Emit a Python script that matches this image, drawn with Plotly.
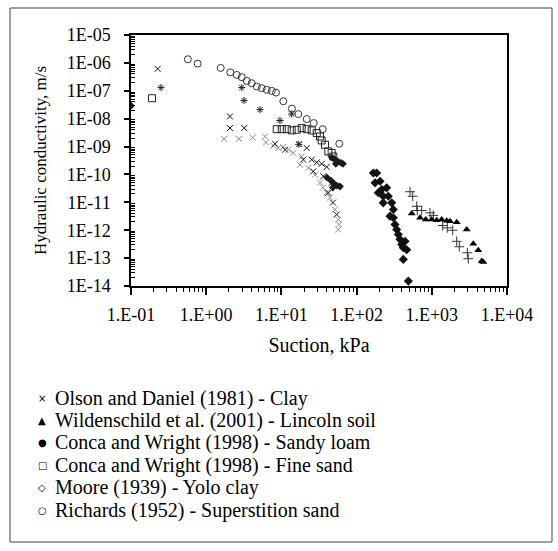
import plotly.graph_objects as go

# ---------------- data (suction kPa, hydraulic conductivity m/s) ----------------
olson_x = [0.226, 2.07, 2.07, 3.21, 8.22, 11.2, 17.3, 21.7, 19.5, 25.3, 29.5, 34.3, 40.0, 26.5, 36.1, 46.6, 42.1, 48.5, 54.3]
olson_y = [6.1e-7, 1.2e-8, 4.6e-9, 4.6e-9, 1.26e-9, 7.7e-10, 1.23e-9, 8.9e-10, 3.4e-10, 3.4e-10, 2.7e-10, 2.4e-10, 1.85e-10,
           1.29e-10, 8.6e-11, 5.0e-11, 2.2e-11, 9.8e-12, 3.65e-12]

olson2_x = [1.73, 2.73, 4.15, 6.05, 6.24, 7.80, 9.1, 10.6, 12.4, 14.4, 18.6, 17.7, 22.8, 28.0, 32.6, 35.7, 40.0, 44.3, 51.6,
            57.1, 58.4, 57.1]
olson2_y = [1.9e-9, 1.9e-9, 2.1e-9, 2.3e-9, 1.4e-9, 1.07e-9, 8.9e-10, 9.6e-10, 7.7e-10, 5.9e-10, 4.4e-10, 2.2e-10, 1.7e-10,
            9.8e-11, 5.1e-11, 3.4e-11, 2.2e-11, 1.48e-11, 5.5e-12, 2.4e-12, 1.6e-12, 1.06e-12]

olson3_x = [0.25, 2.97, 3.18, 5.19, 9.57, 13.7, 17.0]
olson3_y = [1.3e-7, 1.3e-7, 4.5e-8, 2.1e-8, 8.6e-9, 1.46e-8, 1.2e-9]

wild_x = [541, 697, 830, 997, 1162, 1352, 1578, 1746, 2144, 2911, 3565, 4150, 4610, 4840]
wild_y = [4.0e-12, 2.8e-12, 2.4e-12, 2.4e-12, 2.3e-12, 2.4e-12, 2.2e-12, 2.1e-12, 1.94e-12, 1.06e-12, 3.3e-13, 1.9e-13,
          7.8e-14, 7.2e-14]

wild2_x = [513, 557, 630, 641, 734, 946, 1047, 1396, 1607, 1896, 2144, 2322, 2967, 3056]
wild2_y = [2.4e-11, 1.65e-11, 7.2e-12, 5.1e-12, 5.1e-12, 4.2e-12, 3.4e-12, 1.48e-12, 1.22e-12, 1.0e-12, 4.0e-13, 2.55e-13,
           1.56e-13, 9.5e-14]

loam_x = [167, 185, 176, 205, 194, 216, 251, 226, 264, 226, 293, 308, 278, 308, 324, 341, 359, 377, 398, 418, 464, 441,
          418, 488]
loam_y = [1.13e-10, 1.13e-10, 5.0e-11, 5.7e-11, 2.2e-11, 2.9e-11, 3.3e-11, 1.65e-11, 1.65e-11, 9.6e-12, 9.6e-12, 5.5e-12,
          3.2e-12, 2.8e-12, 1.6e-12, 1.06e-12, 7.0e-13, 4.7e-13, 3.1e-13, 2.35e-13, 2.0e-13, 4.0e-13, 9.0e-14, 1.5e-14]

sand_x = [0.19, 8.67, 10.1, 11.8, 13.7, 16.0, 18.6, 21.7, 25.3, 29.5, 32.6, 34.3, 38.0, 42.1, 46.6, 49.0]
sand_y = [5.4e-8, 4.2e-9, 4.2e-9, 4.2e-9, 3.8e-9, 4.0e-9, 4.6e-9, 4.2e-9, 3.8e-9, 3.05e-9, 2.3e-9, 1.66e-9, 1.16e-9,
          6.7e-10, 5.9e-10, 4.4e-10]

moore_x = [0.1, 47.1, 51.6, 56.6, 62.1, 66.0, 53.0, 40.4, 45.7, 50.0, 54.8, 60.1, 48.3]
moore_y = [2.9e-8, 4.0e-10, 3.4e-10, 2.9e-10, 2.6e-10, 2.4e-10, 2.4e-10, 7.7e-11, 6.0e-11, 4.7e-11, 4.0e-11, 3.7e-11, 3.4e-11]

richards_x = [0.57, 0.77, 1.56, 2.09, 2.55, 2.97, 3.46, 4.03, 4.70, 5.47, 6.38, 7.43, 8.48, 10.6, 13.8, 16.8, 21.7, 26.9,
              35.4, 58.9]
richards_y = [1.35e-6, 9.4e-7, 6.6e-7, 4.6e-7, 3.7e-7, 3.07e-7, 2.26e-7, 1.87e-7, 1.42e-7, 1.24e-7, 1.08e-7, 9.9e-8,
              8.6e-8, 4.2e-8, 2.3e-8, 1.46e-8, 9.7e-9, 6.95e-9, 4.2e-9, 1.26e-9]

x_tickvals = [0.1, 1, 10, 100, 1000, 10000]
x_ticktext = ["1.E-01", "1.E+00", "1.E+01", "1.E+02", "1.E+03", "1.E+04"]
y_tickvals = [1e-14, 1e-13, 1e-12, 1e-11, 1e-10, 1e-9, 1e-8, 1e-7, 1e-6, 1e-5]
y_ticktext = ["1E-14", "1E-13", "1E-12", "1E-11", "1E-10", "1E-09", "1E-08", "1E-07", "1E-06", "1E-05"]

legend_glyphs = ["×", "▲", "●", "□", "◇", "○"]
legend_labels = ["Olson and Daniel (1981) - Clay",
                 "Wildenschild et al. (2001) - Lincoln soil",
                 "Conca and Wright (1998) - Sandy loam",
                 "Conca and Wright (1998) - Fine sand",
                 "Moore (1939) - Yolo clay",
                 "Richards (1952) - Superstition sand"]

# ---------------- layout geometry (pixels) ----------------
W, H = 558, 551
L, R, T, B = 131, 507, 35, 286
FONT = "Liberation Serif"


def px(xp):
    return (xp - L) / (R - L)


def py(yp):
    return (B - yp) / (B - T)


fig = go.Figure()


def add(x, y, name, symbol, size, color, lw=1.0):
    fig.add_trace(go.Scatter(
        x=x, y=y, mode="markers", name=name, showlegend=False,
        marker=dict(symbol=symbol, size=size, color=color,
                    line=dict(width=lw, color=color))))


add(olson2_x, olson2_y, "Olson and Daniel (1981) - Clay", "x-thin-open", 6, "#8a8a8a")
add(olson_x, olson_y, "Olson and Daniel (1981) - Clay", "x-thin-open", 6, "#111111")
add(olson3_x, olson3_y, "Olson and Daniel (1981) - Clay", "asterisk-open", 6, "#222222")
add(wild2_x, wild2_y, "Wildenschild et al. (2001) - Lincoln soil", "cross-thin-open", 7, "#333333")
add(wild_x, wild_y, "Wildenschild et al. (2001) - Lincoln soil", "triangle-up", 7, "#000000", 0)
add(loam_x, loam_y, "Conca and Wright (1998) - Sandy loam", "diamond", 7, "#111111", 0)
add(sand_x, sand_y, "Conca and Wright (1998) - Fine sand", "square-open", 7, "#222222")
add(moore_x, moore_y, "Moore (1939) - Yolo clay", "diamond", 6, "#1a1a1a", 0)
add(richards_x, richards_y, "Richards (1952) - Superstition sand", "circle-open", 7, "#333333")

x_minor = [m * 10.0 ** e for e in range(-1, 4) for m in range(2, 10)]
y_minor = [m * 10.0 ** e for e in range(-14, -5) for m in range(2, 10)]

fig.update_xaxes(
    type="log", range=[-1, 4], showgrid=False, zeroline=False,
    showline=True, linecolor="black", linewidth=1.5, mirror=True,
    tickmode="array", tickvals=x_tickvals, ticktext=x_ticktext,
    ticks="outside", ticklen=7, tickwidth=1.5, tickcolor="black",
    ticklabelstandoff=5,
    minor=dict(tickmode="array", tickvals=x_minor, ticks="outside", ticklen=4,
               tickwidth=1, tickcolor="black", showgrid=False),
    tickfont=dict(family=FONT, size=18, color="black"),
    title=dict(text="Suction, kPa", font=dict(family=FONT, size=20, color="black"), standoff=14),
    automargin=False,
)
fig.update_yaxes(
    type="log", range=[-14, -5], showgrid=False, zeroline=False,
    showline=True, linecolor="black", linewidth=1.5, mirror=True,
    tickmode="array", tickvals=y_tickvals, ticktext=y_ticktext,
    ticks="outside", ticklen=5, tickwidth=1.5, tickcolor="black",
    ticklabelstandoff=10,
    minor=dict(tickmode="array", tickvals=y_minor, ticks="inside", ticklen=4,
               tickwidth=1, tickcolor="black", showgrid=False),
    tickfont=dict(family=FONT, size=18, color="black"),
    title=dict(text="Hydraulic conductivity, m/s", font=dict(family=FONT, size=17, color="black"),
               standoff=16),
    automargin=False,
)

# legend written as text lines below the chart
line_y0, line_dy = 398, 22.4
for i, (g, lab) in enumerate(zip(legend_glyphs, legend_labels)):
    yy = py(line_y0 + i * line_dy)
    fig.add_annotation(x=px(42), y=yy, xref="paper", yref="paper", text=g, showarrow=False,
                       xanchor="center", yanchor="middle", borderpad=0,
                       font=dict(family="DejaVu Sans", size=10, color="black"))
    fig.add_annotation(x=px(54), y=yy, xref="paper", yref="paper", text=lab, showarrow=False,
                       xanchor="left", yanchor="middle", borderpad=0,
                       font=dict(family=FONT, size=20, color="black"))

# outer frame
fig.add_shape(type="rect", xref="paper", yref="paper",
              x0=px(10), x1=px(552), y0=py(542), y1=py(8),
              line=dict(color="#444444", width=1), fillcolor="rgba(0,0,0,0)", layer="below")

fig.update_layout(
    width=W, height=H,
    margin=dict(l=L, r=W - R, t=T, b=H - B, autoexpand=False),
    paper_bgcolor="white", plot_bgcolor="white",
    showlegend=False,
    font=dict(family=FONT, color="black"),
)

fig.write_html("out.html")
